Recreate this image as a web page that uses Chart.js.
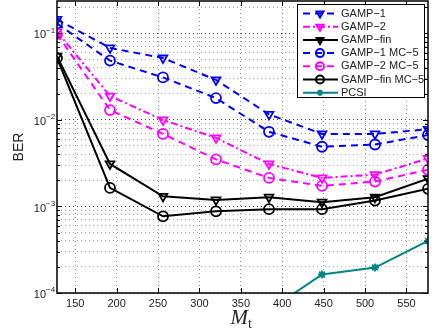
<!DOCTYPE html>
<html lang="en">
<head>
  <meta charset="UTF-8" />
  <title>BER vs Mt</title>
  <style>
    body { margin: 0; background: #fff; }
    canvas { display: block; }
  </style>
</head>
<body>
  <canvas id="berChart" width="442" height="334"></canvas>

  <script src="https://cdn.jsdelivr.net/npm/chart.js"></script>
  <script>
    // values
    const mt = [128, 192, 256, 320, 384, 448, 512, 576];
    const gamp1 = [0.145, 0.068, 0.052, 0.029, 0.0116, 0.0069, 0.0069, 0.0078];
    const gamp2 = [0.105, 0.0189, 0.010, 0.0062, 0.0031, 0.00214, 0.00233, 0.0036];
    const gampFin = [0.0545, 0.0031, 0.00131, 0.00119, 0.00128, 0.00112, 0.00128, 0.0021];
    const gamp1Mc = [0.13, 0.0485, 0.031, 0.0179, 0.0073, 0.0049, 0.0052, 0.0067];
    const gamp2Mc = [0.098, 0.013, 0.0069, 0.0035, 0.00214, 0.00173, 0.00194, 0.00266];
    const gampFinMc = [0.052, 0.00164, 0.00077, 0.00088, 0.00093, 0.00093, 0.00117, 0.0016];
    const pcsi = [null, null, null, null, 0.000063, 0.000164, 0.000197, 0.0004];
    const xTicks = [150, 200, 250, 300, 350, 400, 450, 500, 550];
    const yDecades = [-4, -3, -2, -1];

    const toPts = ys => mt.map((x, i) => ({ x: x, y: ys[i] }));
    const isDecade = v => Math.abs(Math.log10(v) - Math.round(Math.log10(v))) < 1e-6;

    function series(label, ys, color, dash, style) {
      return {
        label: label,
        data: toPts(ys),
        borderColor: color,
        backgroundColor: '#fff',
        borderWidth: 2,
        borderDash: dash,
        pointStyle: style === 'tri' ? 'triangle' : (style === 'x' ? 'star' : 'circle'),
        rotation: style === 'tri' ? 180 : 0,
        pointRadius: style === 'x' ? 4 : 5,
        pointBorderWidth: 1.8,
        pointBorderColor: color,
        pointBackgroundColor: 'rgba(0,0,0,0)',
        spanGaps: false
      };
    }

    const datasets = [
      series('GAMP\u22121', gamp1, '#0000ff', [7, 5], 'tri'),
      series('GAMP\u22122', gamp2, '#ff00ff', [7, 3, 2, 3], 'tri'),
      series('GAMP\u2212fin', gampFin, '#000000', [], 'tri'),
      series('GAMP\u22121 MC\u22125', gamp1Mc, '#0000ff', [7, 5], 'circ'),
      series('GAMP\u22122 MC\u22125', gamp2Mc, '#ff00ff', [7, 5], 'circ'),
      series('GAMP\u2212fin MC\u22125', gampFinMc, '#000000', [], 'circ'),
      series('PCSI', pcsi, '#008585', [], 'x')
    ];

    const FONT = '"Liberation Sans", Arial, sans-serif';

    const decorPlugin = {
      id: 'decor',
      afterDraw(chart) {
        const ctx = chart.ctx;
        const a = chart.chartArea;
        const xs = chart.scales.x, ys = chart.scales.y;
        ctx.save();

        // box and inward ticks
        ctx.strokeStyle = '#000';
        ctx.lineWidth = 1.5;
        ctx.setLineDash([]);
        ctx.strokeRect(a.left, a.top, a.right - a.left, a.bottom - a.top);
        ctx.lineWidth = 1;
        ctx.beginPath();
        xTicks.forEach(v => {
          const px = Math.round(xs.getPixelForValue(v)) + 0.5;
          ctx.moveTo(px, a.bottom); ctx.lineTo(px, a.bottom - 5);
          ctx.moveTo(px, a.top); ctx.lineTo(px, a.top + 5);
        });
        ys.ticks.forEach(t => {
          const py = Math.round(ys.getPixelForValue(t.value)) + 0.5;
          const len = isDecade(t.value) ? 5 : 3;
          ctx.moveTo(a.left, py); ctx.lineTo(a.left + len, py);
          ctx.moveTo(a.right, py); ctx.lineTo(a.right - len, py);
        });
        ctx.stroke();

        // y labels 10^k
        ctx.fillStyle = '#222';
        ctx.textBaseline = 'middle';
        yDecades.forEach(k => {
          const py = ys.getPixelForValue(Math.pow(10, k));
          ctx.font = '11px ' + FONT;
          ctx.textAlign = 'right';
          ctx.fillText('10', 46, py + 2);
          ctx.font = '8px ' + FONT;
          ctx.textAlign = 'left';
          ctx.fillText('\u2212' + Math.abs(k), 46, py - 3);
        });

        // axis titles
        ctx.save();
        ctx.translate(19, (a.top + a.bottom) / 2);
        ctx.rotate(-Math.PI / 2);
        ctx.textAlign = 'center';
        ctx.textBaseline = 'middle';
        ctx.font = '14px ' + FONT;
        ctx.fillStyle = '#222';
        ctx.fillText('BER', 0, 0);
        ctx.restore();

        ctx.textBaseline = 'alphabetic';
        ctx.textAlign = 'left';
        ctx.fillStyle = '#222';
        ctx.font = 'italic 21px "Liberation Serif", "Times New Roman", serif';
        const cx = (a.left + a.right) / 2;
        ctx.fillText('M', cx - 12, 324);
        const mw = ctx.measureText('M').width;
        ctx.font = '14px "Liberation Serif", "Times New Roman", serif';
        ctx.fillText('t', cx - 12 + mw, 328);

        // legend
        const lx = 297, ly = 4, lw = 127, lh = 93;
        ctx.fillStyle = '#fff';
        ctx.fillRect(lx, ly, lw, lh);
        ctx.strokeStyle = '#000';
        ctx.lineWidth = 1;
        ctx.strokeRect(lx + 0.5, ly + 0.5, lw, lh);
        chart.data.datasets.forEach((ds, i) => {
          const y = 13.5 + i * 13.2;
          ctx.strokeStyle = ds.borderColor;
          ctx.lineWidth = ds.borderWidth;
          ctx.setLineDash(ds.borderDash);
          ctx.beginPath();
          ctx.moveTo(303, y); ctx.lineTo(338, y);
          ctx.stroke();
          ctx.setLineDash([]);
          ctx.fillStyle = 'rgba(0,0,0,0)';
          Chart.helpers.drawPoint(ctx, {
            pointStyle: ds.pointStyle,
            radius: ds.pointStyle === 'star' ? 3 : 4,
            rotation: ds.rotation,
            borderWidth: ds.pointBorderWidth
          }, 320, y);
          ctx.fillStyle = '#222';
          ctx.font = '11px ' + FONT;
          ctx.textBaseline = 'middle';
          ctx.fillText(ds.label, 341, y);
        });
        ctx.restore();
      }
    };

    new Chart(document.getElementById('berChart'), {
      type: 'line',
      data: { datasets: datasets },
      plugins: [decorPlugin],
      options: {
        responsive: false,
        devicePixelRatio: 1,
        animation: false,
        layout: { autoPadding: false, padding: { top: 1, right: 14, left: 0, bottom: 0 } },
        plugins: { legend: { display: false }, tooltip: { enabled: false } },
        scales: {
          x: {
            type: 'linear',
            min: 128,
            max: 576,
            afterBuildTicks: s => { s.ticks = xTicks.map(v => ({ value: v })); },
            afterFit: s => { s.height = 41; },
            grid: { color: 'rgba(0,0,0,0.45)', drawTicks: false, lineWidth: 1 },
            border: { display: false, dash: [1, 3] },
            ticks: { padding: 4, color: '#222', font: { size: 11, family: FONT }, maxRotation: 0 }
          },
          y: {
            type: 'logarithmic',
            min: 1e-4,
            max: 0.237,
            afterBuildTicks: s => {
              const t = [];
              for (let k = -4; k <= -1; k++) {
                for (let m = 1; m <= 9; m++) {
                  const v = m * Math.pow(10, k);
                  if (v >= 1e-4 && v <= 0.237) t.push({ value: v });
                }
              }
              s.ticks = t;
            },
            afterFit: s => { s.width = 57; },
            grid: {
              color: c => (c.tick && isDecade(c.tick.value)) ? 'rgba(0,0,0,0.75)' : 'rgba(0,0,0,0.35)',
              drawTicks: false,
              lineWidth: 1
            },
            border: { display: false, dash: [1, 3] },
            ticks: { display: false }
          }
        }
      }
    });
  </script>
</body>
</html>
